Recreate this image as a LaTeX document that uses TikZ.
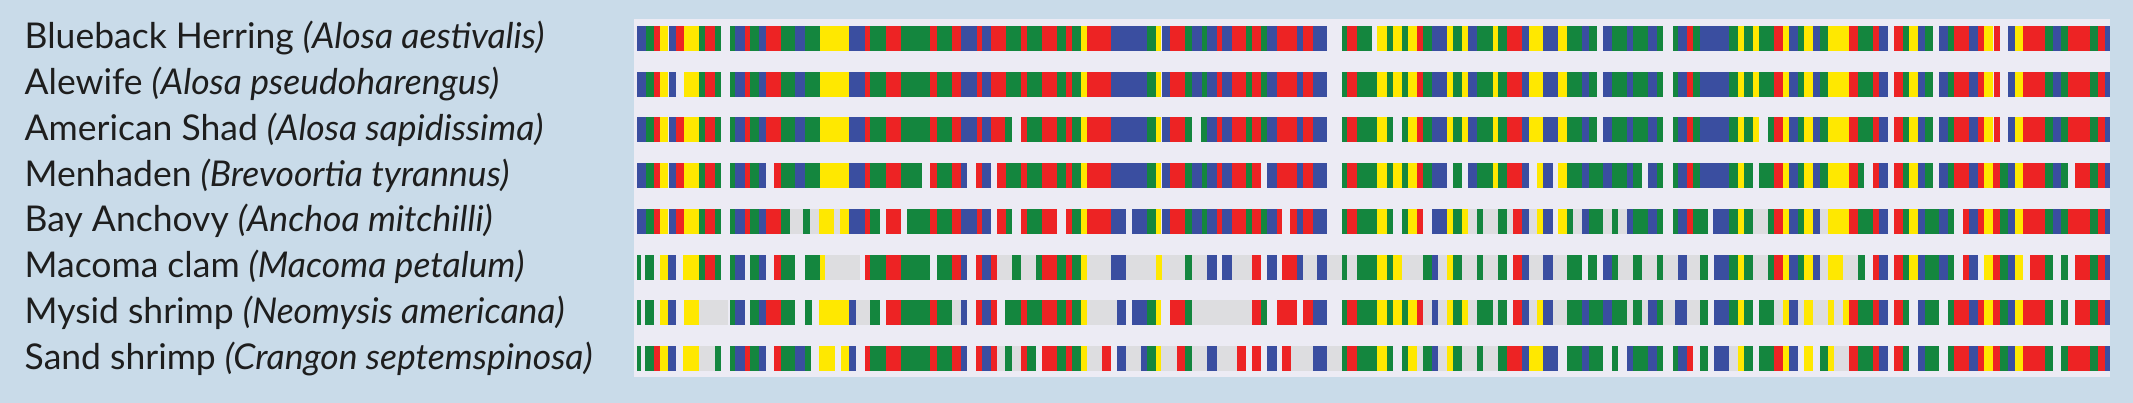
\documentclass[tikz,border=0pt]{standalone}
\usepackage{fontspec}
\setmainfont{Lato}
\definecolor{colG}{RGB}{20,134,62}
\definecolor{colR}{RGB}{237,35,36}
\definecolor{colB}{RGB}{58,78,160}
\definecolor{colY}{RGB}{255,232,0}
\definecolor{colN}{RGB}{221,221,224}
\definecolor{panelcol}{RGB}{236,235,244}
\definecolor{bgcol}{RGB}{201,219,233}
\definecolor{txtcol}{RGB}{30,30,30}
\newcommand\dnarow[2]{%
  \gdef\curx{637}%
  \foreach \c/\e in {#2}{%
    \if\c W\else
      \edef\cc{col\c}%
      \fill[fill=\cc] (\curx,#1) rectangle (\e,#1+25);
    \fi
    \global\let\curx\e
  }}
\tikzset{label/.style={anchor=base west, inner sep=0pt, text=txtcol, font=\fontsize{35.5}{40}\selectfont}}
\begin{document}
\begin{tikzpicture}[x=1pt,y=-1pt]
\fill[bgcol] (0,0) rectangle (2133,403);
\useasboundingbox (0,0) rectangle (2133,403);
\fill[panelcol] (634,19) rectangle (2110,377);
% labels
\node[label] (l1) at (24.5,49) {Blueback Herring \textit{(Alosa aestivalis)}};
\node[label] (l2) at (24.5,94.7) {Alewife \textit{(Alosa pseudoharengus)}};
\node[label] (l3) at (24.5,140.4) {American Shad \textit{(Alosa sapidissima)}};
\node[label] (l4) at (24.5,186.1) {Menhaden \textit{(Brevoortia tyrannus)}};
\node[label] (l5) at (24.5,231.9) {Bay Anchovy \textit{(Anchoa mitchilli)}};
\node[label] (l6) at (24.5,277.6) {Macoma clam \textit{(Macoma petalum)}};
\node[label] (l7) at (24.5,323.3) {Mysid shrimp \textit{(Neomysis americana)}};
\node[label] (l8) at (24.5,369) {Sand shrimp \textit{(Crangon septemspinosa)}};
% row 1
\dnarow{26}{B/646, G/654, R/660, Y/668, W/669, B/676, R/684, Y/699, G/705, R/714.5, G/721, W/730, G/735, B/745, R/750, G/759, B/766, R/781, G/795, B/805, G/820, Y/849, B/865, R/870, G/886, R/901, G/930, R/937, G/952, R/961, B/977, R/982, B/991, R/1006, G/1021, R/1027, G/1042, R/1057, G/1066, R/1072, G/1081, Y/1087, R/1111, B/1147, G/1156, Y/1161, W/1162, B/1170, R/1185, G/1192, B/1202, G/1207, B/1217, R/1222, B/1232, R/1246, G/1252, R/1261, G/1267, B/1277, R/1297, B/1303, R/1313, B/1327, W/1342, G/1347, R/1357, G/1372, W/1377, Y/1387, G/1393, Y/1402, G/1408, Y/1417, R/1423, G/1432, B/1447, Y/1453, G/1462, Y/1468, B/1477, G/1493, Y/1498, G/1507, R/1522, B/1529, Y/1543, B/1558, Y/1567, G/1582, B/1589, G/1597, W/1603, B/1612, G/1627, B/1633, G/1648, B/1657, G/1663, W/1673, G/1678, B/1687, R/1693, G/1700, B/1729, G/1738, Y/1744, G/1753, Y/1759, G/1774, R/1783, Y/1789, B/1798, G/1804, Y/1813, B/1820, G/1828, Y/1849, R/1858, G/1873, R/1879, B/1888, W/1894, R/1903, G/1909, Y/1918, B/1925, G/1933, W/1939, B/1948, G/1954, R/1969, B/1978, R/1984, Y/1993, W/1994, R/2000, W/2008, B/2015, Y/2023, R/2045, G/2053, B/2061, G/2068, R/2090, G/2098, R/2105, B/2110}
% row 2
\dnarow{71.7}{B/646, G/654, R/660, Y/668, W/669, B/676, W/684, Y/699, G/705, R/714.5, G/721, W/730, G/735, B/745, R/750, G/759, B/766, R/781, G/795, B/805, G/820, Y/849, B/865, R/870, G/886, R/901, G/930, R/937, G/952, R/961, B/977, R/982, B/991, R/1006, G/1021, R/1027, G/1042, R/1057, G/1066, R/1072, G/1081, Y/1087, R/1111, B/1147, G/1156, Y/1161, W/1162, B/1170, R/1185, G/1192, B/1202, G/1207, B/1217, R/1222, B/1232, R/1246, G/1252, R/1261, G/1267, B/1277, R/1297, B/1303, R/1313, B/1327, W/1342, G/1347, R/1357, G/1377, Y/1387, G/1393, Y/1402, G/1408, Y/1417, R/1423, G/1432, B/1447, Y/1453, G/1462, Y/1468, B/1477, G/1493, Y/1498, G/1507, R/1522, B/1529, Y/1543, B/1558, Y/1567, G/1582, B/1589, G/1597, W/1603, B/1612, G/1627, B/1633, G/1648, B/1657, G/1663, W/1673, G/1678, B/1687, R/1693, G/1700, B/1729, G/1738, Y/1744, G/1753, Y/1759, G/1774, R/1783, Y/1789, B/1798, G/1804, Y/1813, B/1820, G/1828, Y/1849, R/1858, G/1873, R/1879, B/1888, W/1894, R/1903, G/1909, Y/1918, B/1925, G/1933, W/1939, B/1948, G/1954, R/1969, B/1978, R/1984, Y/1993, W/1994, R/2000, W/2008, B/2015, Y/2023, R/2045, G/2053, B/2061, G/2068, R/2090, G/2098, R/2105, B/2110}
% row 3
\dnarow{117.4}{B/646, G/654, R/660, Y/668, W/669, B/676, R/684, Y/699, G/705, R/714.5, G/721, W/730, G/735, B/745, R/750, G/759, B/766, R/781, G/795, B/805, G/820, Y/849, B/865, R/870, G/886, R/901, G/930, R/937, G/952, R/961, B/977, R/982, B/991, R/1005, G/1012, W/1021, R/1027, G/1042, R/1057, G/1066, R/1072, G/1081, Y/1087, R/1111, B/1147, G/1156, Y/1161, W/1162, B/1170, R/1185, G/1192, W/1201, G/1207, B/1217, R/1222, B/1232, R/1246, G/1252, R/1261, G/1267, B/1277, R/1297, B/1303, R/1313, B/1327, W/1342, G/1347, R/1357, G/1377, Y/1387, G/1393, W/1402, G/1408, Y/1417, R/1423, G/1432, B/1447, Y/1453, G/1462, Y/1468, B/1477, G/1493, Y/1498, G/1507, R/1522, B/1529, Y/1543, B/1558, Y/1567, G/1582, B/1589, G/1597, W/1603, B/1612, G/1627, B/1633, G/1648, B/1657, G/1663, W/1673, G/1678, B/1687, R/1693, G/1700, B/1729, G/1738, Y/1744, G/1753, Y/1759, W/1768, G/1774, R/1783, Y/1789, B/1798, G/1804, Y/1813, B/1820, G/1828, Y/1849, R/1858, G/1873, R/1879, B/1888, W/1894, R/1903, G/1909, Y/1918, B/1925, G/1933, W/1939, B/1948, G/1954, R/1969, B/1978, R/1984, Y/1993, W/1994, R/2000, W/2008, B/2015, Y/2023, R/2045, G/2053, B/2061, G/2068, R/2090, G/2098, R/2105, B/2110}
% row 4
\dnarow{163.1}{B/646, G/654, R/660, Y/668, W/669, B/676, R/684, Y/699, G/705, R/714.5, G/721, W/730, G/735, B/745, R/750, G/759, B/766, W/774, R/781, G/795, B/805, G/820, Y/849, B/865, R/870, G/886, R/901, G/922, W/930, R/937, G/952, R/961, B/967, W/976, R/982, B/991, W/997, R/1006, G/1021, R/1027, G/1042, R/1057, G/1066, R/1072, G/1081, Y/1087, R/1111, B/1147, G/1156, Y/1161, W/1162, B/1170, R/1185, G/1192, B/1202, G/1207, B/1217, R/1222, B/1232, R/1246, G/1252, R/1261, W/1267, B/1277, R/1297, B/1303, R/1313, B/1327, W/1342, G/1347, R/1357, G/1377, Y/1387, G/1393, Y/1402, G/1408, Y/1417, R/1423, G/1432, B/1447, W/1453, G/1462, W/1468, B/1477, G/1493, Y/1498, G/1507, R/1522, B/1529, W/1537, Y/1543, B/1553, W/1558, Y/1567, G/1582, B/1589, G/1603, B/1612, G/1627, B/1633, G/1642, W/1648, B/1657, G/1663, W/1673, G/1678, B/1687, R/1693, G/1700, B/1729, G/1738, Y/1744, G/1753, W/1759, G/1774, R/1783, Y/1789, B/1798, G/1804, Y/1813, B/1820, G/1828, Y/1849, R/1858, G/1864, W/1873, R/1879, B/1888, W/1894, R/1903, G/1909, Y/1918, B/1925, G/1933, W/1939, B/1948, G/1954, R/1969, B/1978, R/1984, Y/1993, R/2000, G/2008, B/2015, Y/2023, R/2045, G/2053, B/2061, G/2068, W/2075, R/2090, G/2098, R/2105, B/2110}
% row 5
\dnarow{208.9}{B/646, G/654, R/660, Y/668, W/669, B/676, R/684, Y/699, G/705, R/714.5, G/721, W/730, G/735, B/745, R/750, G/759, B/766, R/781, G/790, N/803, G/810, N/819, Y/834, N/840, Y/849, B/865, R/870, G/880, W/886, R/901, W/907, G/930, R/937, G/952, R/961, B/977, R/982, B/991, W/997, R/1006, G/1012, W/1021, R/1027, G/1042, R/1057, W/1066, R/1072, G/1081, Y/1087, R/1111, B/1126, W/1132, B/1147, G/1156, Y/1161, W/1162, B/1170, R/1185, G/1192, B/1202, G/1207, B/1217, R/1222, B/1232, R/1246, G/1252, R/1261, G/1267, B/1277, R/1282, W/1290, R/1297, B/1303, R/1313, B/1327, W/1342, G/1347, R/1357, G/1377, Y/1387, G/1393, W/1402, G/1408, Y/1417, R/1423, W/1432, B/1447, Y/1453, G/1462, Y/1468, N/1477, G/1483, N/1498, G/1507, N/1513, R/1522, B/1529, N/1537, Y/1543, B/1553, W/1558, Y/1567, G/1573, N/1582, B/1589, G/1603, N/1612, G/1618, N/1627, B/1633, G/1648, B/1657, G/1663, W/1673, G/1678, B/1687, R/1693, G/1708, W/1713, B/1729, G/1738, Y/1744, G/1753, N/1768, G/1774, R/1783, Y/1789, B/1798, G/1804, Y/1813, B/1820, N/1828, Y/1849, R/1858, G/1873, R/1879, B/1888, W/1894, R/1903, G/1909, Y/1918, B/1925, G/1939, B/1948, G/1954, W/1963, R/1969, B/1978, R/1984, Y/1993, R/2000, G/2008, B/2015, Y/2023, R/2045, G/2053, B/2061, G/2068, R/2090, G/2098, R/2105, B/2110}
% row 6
\dnarow{254.6}{G/641, W/645, G/654, W/660, Y/668, B/676, W/683, Y/699, G/705, R/714.5, G/721, W/730, G/735, B/745, W/750, G/759, B/766, W/774, R/781, G/795, W/805, G/820, Y/825, N/860, W/865, R/870, G/886, R/901, G/930, W/937, G/952, R/961, B/967, W/976, R/982, B/991, R/997, N/1012, G/1021, N/1036, G/1042, R/1057, G/1066, R/1072, G/1081, Y/1087, N/1111, B/1126, N/1156, Y/1162, N/1185, G/1192, N/1207, B/1217, W/1222, B/1232, N/1252, R/1261, W/1267, B/1277, W/1282, R/1297, B/1303, N/1317, B/1327, N/1342, G/1347, N/1357, G/1377, Y/1387, G/1393, Y/1402, N/1423, G/1432, B/1438, N/1447, Y/1453, G/1462, N/1477, G/1483, N/1498, G/1507, W/1513, R/1522, B/1529, N/1543, B/1553, N/1567, G/1582, W/1588, G/1597, W/1603, B/1612, G/1618, N/1633, G/1642, N/1657, G/1663, N/1678, B/1687, N/1700, G/1708, W/1714, B/1729, G/1738, Y/1744, G/1753, N/1768, G/1774, R/1783, Y/1789, B/1798, G/1804, Y/1813, B/1820, N/1828, Y/1843, N/1858, G/1865, W/1873, R/1879, B/1888, W/1894, R/1903, G/1909, Y/1918, B/1925, G/1939, B/1948, G/1954, W/1963, R/1969, B/1978, W/1984, Y/1993, R/2000, G/2008, B/2015, Y/2023, W/2030, R/2045, G/2053, W/2061, G/2068, W/2075, R/2090, G/2098, R/2105, B/2110}
% row 7
\dnarow{300.3}{G/641, W/645, G/654, W/660, Y/668, B/676, W/684, Y/699, N/728, W/730, G/735, B/745, W/750, G/759, B/766, R/781, G/795, W/805, G/812, W/819, Y/849, B/856, N/870, G/880, W/886, R/901, G/930, R/937, G/952, N/961, B/967, W/976, R/982, B/991, R/997, W/1005, G/1021, R/1027, G/1042, R/1057, G/1066, R/1072, G/1081, Y/1087, N/1117, B/1126, W/1132, B/1147, G/1156, Y/1161, W/1170, R/1185, G/1192, N/1252, R/1261, G/1267, W/1277, R/1297, W/1303, R/1313, B/1327, W/1342, G/1347, R/1357, G/1377, Y/1387, G/1393, Y/1402, G/1408, Y/1417, R/1423, N/1432, B/1438, N/1447, Y/1453, G/1462, Y/1468, N/1477, G/1493, N/1498, G/1507, W/1513, R/1522, B/1529, N/1537, Y/1543, B/1553, N/1567, G/1582, B/1589, G/1603, B/1612, G/1627, N/1633, G/1642, N/1648, B/1657, G/1663, N/1675, B/1687, N/1700, G/1708, W/1714, B/1729, G/1738, Y/1744, G/1753, W/1759, G/1774, N/1783, Y/1789, B/1798, N/1804, Y/1813, N/1828, Y/1834, N/1843, Y/1849, R/1858, G/1873, R/1879, B/1888, W/1894, R/1903, G/1909, W/1918, B/1925, G/1939, W/1948, G/1954, R/1969, B/1978, R/1984, Y/1993, R/2000, G/2008, B/2015, Y/2023, R/2045, G/2053, W/2061, G/2068, W/2075, R/2090, G/2098, R/2105, B/2110}
% row 8
\dnarow{346}{G/641, W/645, G/654, R/660, Y/668, B/676, W/683, Y/699, N/714.5, G/721, W/730, G/735, B/745, R/750, G/759, B/766, W/774, R/781, G/795, B/805, G/811, W/819, Y/835, W/841, Y/849, B/856, W/865, R/870, G/886, R/901, G/930, R/937, G/952, R/961, B/967, W/976, R/982, B/991, R/997, N/1005, G/1012, N/1021, R/1027, G/1036, W/1042, R/1057, G/1066, R/1072, G/1081, Y/1087, N/1102, R/1111, W/1117, B/1126, N/1141, B/1147, G/1156, Y/1161, N/1177, R/1185, G/1192, N/1207, B/1217, N/1237, R/1246, W/1252, R/1261, W/1267, B/1277, W/1282, R/1291, N/1313, B/1327, N/1342, G/1347, R/1357, G/1377, Y/1387, G/1393, W/1402, G/1408, Y/1417, N/1423, G/1432, B/1438, N/1447, Y/1453, G/1462, N/1477, G/1483, N/1498, G/1507, R/1522, B/1529, Y/1543, B/1558, W/1567, G/1582, B/1589, G/1603, W/1612, G/1618, W/1627, B/1633, G/1648, B/1657, G/1663, W/1673, G/1678, B/1687, R/1693, W/1700, G/1708, W/1714, B/1729, N/1738, Y/1744, G/1753, W/1759, G/1774, R/1783, Y/1789, B/1798, W/1804, Y/1813, W/1820, G/1828, Y/1834, N/1849, R/1858, G/1873, R/1879, B/1888, W/1894, R/1903, G/1909, W/1918, B/1925, G/1939, W/1948, G/1954, R/1969, B/1978, R/1984, Y/1993, R/2000, G/2008, B/2015, Y/2023, R/2045, G/2053, W/2061, G/2068, R/2090, G/2098, R/2105, B/2110}
\end{tikzpicture}
\end{document}
